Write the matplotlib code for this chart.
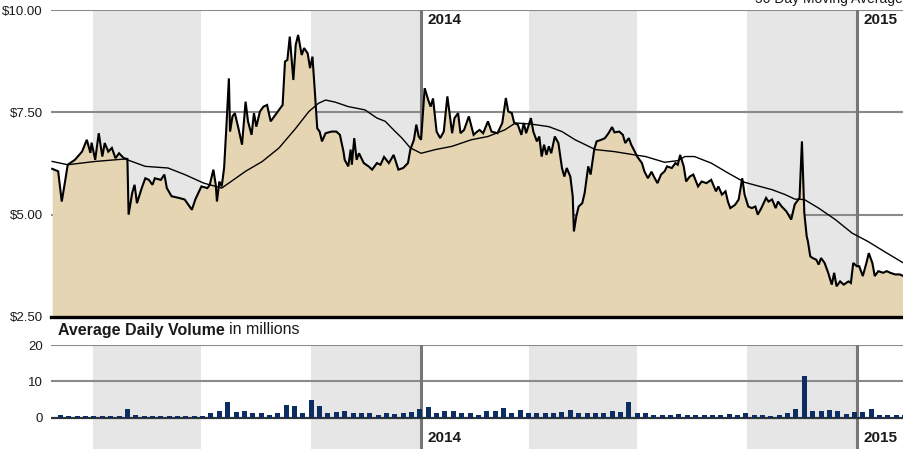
import numpy as np
import matplotlib
matplotlib.use("Agg")
import matplotlib.pyplot as plt
import matplotlib.dates as mdates

plt.rcParams['font.family'] = ['Liberation Sans', 'DejaVu Sans']

# ---------------- data ----------------
# price: days relative to 2014-01-01, closing price in $
price_days = [
    -309, -304, -301, -298, -296, -292, -290, -284, -280, -277,
    -276, -273, -270, -267, -265, -262, -259, -256, -253, -249,
    -246, -245, -242, -240, -238, -234, -231, -228, -225, -223,
    -218, -215, -213, -209, -203, -198, -192, -189, -184, -179,
    -177, -174, -172, -171, -169, -167, -165, -163, -161, -160,
    -158, -156, -153, -150, -147, -145, -142, -140, -138, -135,
    -132, -129, -126, -121, -116, -114, -112, -110, -107, -105,
    -103, -100, -98, -95, -93, -91, -89, -87, -85, -83,
    -80, -75, -71, -68, -65, -64, -61, -59, -58, -56,
    -54, -52, -48, -44, -41, -37, -34, -31, -27, -23,
    -19, -15, -11, -9, -6, -4, -2, 0, 3, 6,
    8, 10, 13, 16, 19, 22, 26, 28, 31, 33,
    36, 40, 44, 47, 49, 52, 56, 59, 64, 68,
    71, 73, 76, 78, 81, 84, 86, 88, 92, 94,
    97, 99, 101, 103, 105, 107, 109, 112, 115, 118,
    120, 122, 125, 127, 128, 130, 132, 135, 137, 140,
    142, 145, 147, 151, 154, 157, 160, 162, 166, 169,
    171, 174, 176, 179, 181, 185, 187, 190, 193, 195,
    198, 201, 204, 206, 210, 213, 215, 217, 220, 222,
    225, 228, 232, 235, 239, 243, 247, 249, 252, 255,
    257, 259, 263, 266, 269, 271, 274, 277, 280, 282,
    285, 289, 291, 294, 297, 299, 302, 306, 310, 313,
    316, 317, 319, 321, 323, 324, 326, 328, 331, 333,
    335, 338, 341, 344, 346, 348, 351, 354, 358, 360,
    362, 365, 367, 370, 373, 375, 378, 380, 383, 387,
    390, 393, 397, 401, 404,
]
price_vals = [
    6.12, 6.06, 5.32, 5.85, 6.22, 6.30, 6.34, 6.54, 6.83, 6.51,
    6.76, 6.34, 6.99, 6.42, 6.75, 6.54, 6.63, 6.38, 6.50, 6.38,
    6.36, 5.00, 5.53, 5.73, 5.28, 5.65, 5.89, 5.85, 5.73, 5.89,
    5.85, 5.98, 5.65, 5.45, 5.41, 5.37, 5.12, 5.38, 5.69, 5.65,
    5.73, 6.10, 5.73, 5.32, 5.81, 5.69, 6.14, 7.20, 8.33, 7.03,
    7.40, 7.48, 7.11, 6.71, 7.76, 7.28, 6.95, 7.48, 7.15, 7.52,
    7.64, 7.68, 7.28, 7.48, 7.68, 8.74, 8.78, 9.35, 8.29, 9.15,
    9.39, 8.90, 9.07, 8.94, 8.58, 8.86, 8.01, 7.11, 7.03, 6.79,
    6.99, 7.03, 7.03, 6.95, 6.54, 6.34, 6.18, 6.59, 6.22, 6.87,
    6.34, 6.50, 6.26, 6.18, 6.10, 6.26, 6.22, 6.41, 6.26, 6.46,
    6.10, 6.14, 6.26, 6.59, 6.83, 7.20, 6.91, 6.83, 8.09, 7.80,
    7.64, 7.84, 7.03, 6.87, 7.03, 7.89, 6.99, 7.36, 7.48, 6.99,
    7.07, 7.40, 6.95, 7.03, 7.07, 6.99, 7.28, 7.03, 6.99, 7.24,
    7.85, 7.52, 7.48, 7.24, 7.20, 6.95, 7.24, 6.99, 7.36, 7.03,
    6.79, 6.91, 6.42, 6.71, 6.46, 6.67, 6.50, 6.91, 6.75, 6.14,
    5.93, 6.14, 5.93, 5.45, 4.59, 4.96, 5.20, 5.28, 5.53, 6.18,
    5.98, 6.59, 6.79, 6.83, 6.87, 6.99, 7.14, 7.01, 7.03, 6.95,
    6.75, 6.87, 6.71, 6.54, 6.42, 6.26, 6.06, 5.89, 6.05, 5.93,
    5.77, 5.98, 6.06, 6.18, 6.14, 6.26, 6.22, 6.46, 6.18, 5.81,
    5.93, 5.98, 5.69, 5.81, 5.77, 5.85, 5.57, 5.69, 5.49, 5.57,
    5.32, 5.16, 5.24, 5.37, 5.89, 5.49, 5.20, 5.16, 5.20, 5.00,
    5.16, 5.41, 5.32, 5.37, 5.16, 5.32, 5.20, 5.08, 4.88, 5.25,
    5.37, 5.41, 6.79, 5.04, 4.47, 4.35, 3.98, 3.94, 3.90, 3.78,
    3.94, 3.82, 3.58, 3.29, 3.58, 3.25, 3.37, 3.29, 3.37, 3.33,
    3.82, 3.74, 3.74, 3.50, 3.82, 4.06, 3.82, 3.50, 3.62, 3.58,
    3.62, 3.58, 3.54, 3.54, 3.50,
]

# 50 day moving average
ma_days = [
    -309, -296, -273, -248, -231, -212, -198, -182, -167, -147,
    -133, -119, -105, -94, -86, -80, -72, -61, -47, -37,
    -30, -23, -16, -9, 0, 12, 26, 42, 56, 70,
    79, 93, 107, 118, 129, 146, 162, 179, 188, 204,
    215, 221, 229, 243, 257, 271, 294, 305, 313, 321,
    333, 347, 361, 374, 388, 404,
]
ma_vals = [
    6.30, 6.22, 6.30, 6.36, 6.18, 6.14, 5.98, 5.77, 5.65, 6.06,
    6.30, 6.63, 7.11, 7.52, 7.72, 7.80, 7.75, 7.64, 7.56, 7.36,
    7.28, 7.07, 6.87, 6.63, 6.50, 6.59, 6.67, 6.83, 6.91, 7.07,
    7.24, 7.21, 7.15, 7.03, 6.83, 6.59, 6.54, 6.46, 6.42, 6.28,
    6.32, 6.42, 6.42, 6.26, 6.02, 5.79, 5.61, 5.49, 5.38, 5.37,
    5.16, 4.88, 4.55, 4.35, 4.10, 3.82,
]

# weekly average daily volume (millions); first week starts at day offset below
vol_first_day = -302
vol_vals = [
    0.9, 0.45, 0.45, 0.45, 0.6, 0.6, 0.45, 0.45, 2.5, 0.7,
    0.6, 0.45, 0.45, 0.45, 0.45, 0.45, 0.55, 0.45, 1.5, 1.8,
    4.5, 1.6, 1.8, 1.4, 1.4, 0.9, 1.4, 3.5, 3.4, 1.3,
    4.8, 3.2, 1.5, 1.7, 1.9, 1.5, 1.4, 1.4, 0.9, 1.4,
    1.1, 1.4, 1.7, 2.5, 3.1, 1.5, 1.8,
    2.0, 1.4, 1.4, 0.9, 1.8, 1.8, 2.7, 1.4, 2.3, 1.5,
    1.5, 1.5, 1.5, 1.7, 2.3, 1.5, 1.5, 1.5, 1.3, 1.8,
    1.7, 4.5, 1.3, 1.4, 0.8, 0.8, 0.8, 1.1, 0.8, 0.8,
    0.8, 0.8, 0.7, 1.1, 0.9, 1.4, 0.9, 0.8, 0.6, 0.7,
    1.3, 2.5, 11.4, 2.0, 2.0, 2.3, 1.8, 1.1, 1.7, 1.7,
    2.5, 0.8, 0.8, 0.8, 0.7,
]

price_ticks = [2.5, 5.0, 7.5, 10.0]
price_tick_labels = ['$2.50', '$5.00', '$7.50', '$10.00']
vol_ticks = [0, 10, 20]
vol_tick_labels = ['0', '10', '20']
year_starts = ['2014-01-01', '2015-01-01']
year_labels = ['2014', '2015']
shaded_quarters = [('2013-04-01', '2013-07-01'), ('2013-10-01', '2014-01-01'),
                   ('2014-04-01', '2014-07-01'), ('2014-10-01', '2015-01-01')]
x_range_days = (-310, 404.5)

# ---------------- helpers ----------------
BASE = np.datetime64('2014-01-01')


def to_num(days):
    d = BASE + np.array(days, dtype='timedelta64[D]')
    return mdates.date2num(d.astype('datetime64[s]').astype(object))


def date_num(s):
    return mdates.date2num(np.datetime64(s, 's').astype(object))


px = to_num(price_days)
mx = to_num(ma_days)
vx = to_num([vol_first_day + 7 * i for i in range(len(vol_vals))])
base_num = date_num('2014-01-01')
xlim = (base_num + x_range_days[0], base_num + x_range_days[1])

BEIGE = '#e5d5b3'
SHADE = '#e6e6e6'
GRID = '#8a8a8a'
YEARLINE = '#777777'
NAVY = '#0c2d62'
TXT = '#1a1a1a'

fig = plt.figure(figsize=(9.04, 4.49), dpi=100)
W, H = 904, 449
ax = fig.add_axes([51 / W, 1 - 317 / H, (W - 51) / W, (317 - 10) / H])
axv = fig.add_axes([51 / W, 0, (W - 51) / W, (449 - 345) / H])

# ---------- price panel ----------
for a, b in shaded_quarters:
    ax.axvspan(date_num(a), date_num(b), color=SHADE, lw=0, zorder=0)
for y in [5.0, 7.5, 10.0]:
    ax.axhline(y, color=GRID, lw=1.5, zorder=1)
for ys in year_starts:
    ax.axvline(date_num(ys), color=YEARLINE, lw=2.2, zorder=1)
ax.fill_between(px, price_vals, 2.5, color=BEIGE, lw=0, zorder=2)
ax.plot(px, price_vals, color='black', lw=1.5, zorder=3, solid_joinstyle='miter')
ax.plot(mx, ma_vals, color='black', lw=1.0, zorder=4)

ax.set_xlim(xlim)
ax.set_ylim(2.5, 10.0)
ax.set_yticks(price_ticks)
ax.set_yticklabels(price_tick_labels)
ax.set_xticks([])
ax.tick_params(axis='y', length=0, pad=6, labelsize=9.5, colors=TXT)
for s in ['top', 'right', 'left']:
    ax.spines[s].set_visible(False)
ax.spines['bottom'].set_linewidth(2.4)
ax.spines['bottom'].set_color('black')
ax.spines['bottom'].set_zorder(5)
ax.set_facecolor('none')

for ys, lab in zip(year_starts, year_labels):
    ax.annotate(lab, xy=(date_num(ys), 9.76), xytext=(4.5, 0),
                textcoords='offset points', ha='left', va='center',
                fontsize=11, fontweight='bold', color=TXT, zorder=6)

fig.text(0.999, 1 + 1.5 / H, '50 Day Moving Average', ha='right', va='center',
         fontsize=10, color=TXT)

# ---------- volume panel ----------
for a, b in shaded_quarters:
    axv.axvspan(date_num(a), date_num(b), color=SHADE, lw=0, zorder=0)
for y in [10, 20]:
    axv.axhline(y, color=GRID, lw=1.5, zorder=1)
for ys in year_starts:
    axv.axvline(date_num(ys), color=YEARLINE, lw=2.2, zorder=1)
axv.axhline(0, color='#333333', lw=1.6, zorder=2)
axv.bar(vx, vol_vals, width=4.2, color=NAVY, lw=0, zorder=3, align='center')

axv.set_xlim(xlim)
axv.set_ylim(-8.5, 20.0)
axv.set_yticks(vol_ticks)
axv.set_yticklabels(vol_tick_labels)
axv.set_xticks([])
axv.tick_params(axis='y', length=0, pad=6, labelsize=9.5, colors=TXT)
for s in axv.spines.values():
    s.set_visible(False)
axv.set_facecolor('none')

for ys, lab in zip(year_starts, year_labels):
    axv.annotate(lab, xy=(date_num(ys), -5.5), xytext=(4.5, 0),
                 textcoords='offset points', ha='left', va='center',
                 fontsize=11, fontweight='bold', color=TXT, zorder=6)

# volume title: bold + regular
t1 = fig.text(58 / W, 1 - 330 / H, 'Average Daily Volume', ha='left', va='center',
              fontsize=11.5, fontweight='bold', color=TXT)
fig.canvas.draw()
bb = t1.get_window_extent()
fig.text((bb.x1 + 4) / W, 1 - 330 / H, 'in millions', ha='left', va='center',
         fontsize=11.5, color=TXT)

fig.savefig('out.png', dpi=100)
